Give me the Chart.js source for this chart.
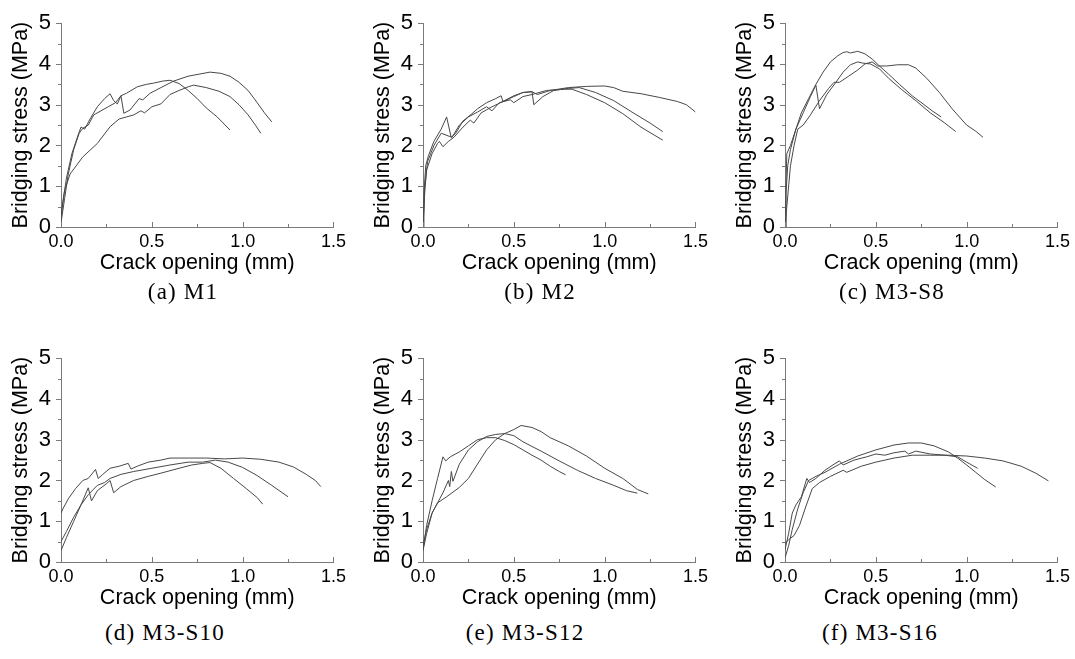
<!DOCTYPE html>
<html>
<head>
<meta charset="utf-8">
<script src="https://cdn.jsdelivr.net/npm/chart.js@4.4.0/dist/chart.umd.min.js"></script>
<style>
  html, body { margin: 0; padding: 0; background: #fff; overflow: hidden; }
  #wrap { position: relative; width: 1075px; height: 659px; }
  canvas { position: absolute; }
  .cap { position: absolute; width: 300px; text-align: center;
         font-family: "Liberation Serif", "Times New Roman", serif;
         font-size: 23px; letter-spacing: 1.2px; color: #000; }
</style>
</head>
<body>
<div id="wrap"></div>
<script>
// tick labels
const X_TICKS = [0, 0.5, 1.0, 1.5];
const Y_TICKS = [0, 1, 2, 3, 4, 5];
const X_TITLE = 'Crack opening (mm)';
const Y_TITLE = 'Bridging stress (MPa)';
const CAPTIONS = ['(a) M1', '(b) M2', '(c) M3-S8', '(d) M3-S10', '(e) M3-S12', '(f) M3-S16'];

// [crack opening mm, bridging stress MPa], three specimens per panel
const M1_1 = [[0,0.2],[0.01,0.6],[0.03,1.2],[0.06,1.8],[0.09,2.2],[0.11,2.45],[0.13,2.4],[0.16,2.65],[0.2,2.95],[0.24,3.15],[0.27,3.27],[0.29,3.1],[0.31,3.02],[0.33,3.22],[0.36,3.28],[0.42,3.44],[0.47,3.5],[0.51,3.53],[0.56,3.58],[0.6,3.6],[0.65,3.52],[0.7,3.35],[0.75,3.15],[0.8,2.92],[0.86,2.7],[0.93,2.38]];
const M1_2 = [[0,0.1],[0.02,0.7],[0.04,1.3],[0.07,1.9],[0.1,2.3],[0.12,2.42],[0.15,2.5],[0.18,2.75],[0.22,2.85],[0.26,2.95],[0.3,3.05],[0.33,3.22],[0.346,2.79],[0.38,2.87],[0.43,3.15],[0.45,3.12],[0.49,3.28],[0.55,3.42],[0.62,3.58],[0.7,3.7],[0.76,3.75],[0.82,3.8],[0.88,3.77],[0.93,3.7],[0.98,3.55],[1.03,3.35],[1.08,3.05],[1.12,2.8],[1.16,2.58]];
const M1_3 = [[0,0.3],[0.02,0.9],[0.05,1.3],[0.12,1.72],[0.2,2.05],[0.27,2.46],[0.32,2.65],[0.36,2.7],[0.4,2.75],[0.44,2.85],[0.46,2.8],[0.5,2.95],[0.55,3.02],[0.6,3.25],[0.65,3.35],[0.7,3.44],[0.73,3.48],[0.8,3.42],[0.87,3.33],[0.93,3.2],[0.98,3.0],[1.03,2.75],[1.07,2.5],[1.1,2.3]];

const M2_1 = [[0,0],[0.005,0.8],[0.015,1.5],[0.03,1.75],[0.06,2.1],[0.1,2.4],[0.13,2.7],[0.155,2.2],[0.18,2.3],[0.22,2.6],[0.27,2.78],[0.3,2.9],[0.35,3.05],[0.4,3.15],[0.43,3.22],[0.44,3.08],[0.5,3.22],[0.55,3.3],[0.6,3.32],[0.63,3.25],[0.7,3.35],[0.8,3.42],[0.9,3.45],[1.0,3.46],[1.05,3.42],[1.1,3.33],[1.2,3.27],[1.3,3.18],[1.4,3.08],[1.45,3.0],[1.5,2.82]];
const M2_2 = [[0,0],[0.01,0.9],[0.02,1.4],[0.05,1.8],[0.08,2.05],[0.09,2.1],[0.11,1.97],[0.14,2.1],[0.17,2.2],[0.22,2.45],[0.26,2.62],[0.28,2.55],[0.32,2.8],[0.38,2.95],[0.45,3.1],[0.5,3.2],[0.55,3.3],[0.6,3.32],[0.61,3.0],[0.66,3.2],[0.72,3.35],[0.8,3.4],[0.86,3.42],[0.95,3.3],[1.05,3.1],[1.15,2.82],[1.25,2.55],[1.32,2.34]];
const M2_3 = [[0,0],[0.01,1.0],[0.025,1.6],[0.06,2.0],[0.1,2.3],[0.16,2.2],[0.2,2.5],[0.25,2.7],[0.3,2.82],[0.35,2.95],[0.38,2.85],[0.42,3.05],[0.48,3.12],[0.5,3.05],[0.55,3.2],[0.6,3.25],[0.68,3.35],[0.78,3.38],[0.82,3.38],[0.9,3.25],[1.0,3.05],[1.1,2.78],[1.2,2.45],[1.32,2.13]];

const M3S8_1 = [[0,0],[0.005,1.0],[0.01,1.8],[0.03,2.0],[0.06,2.4],[0.09,2.8],[0.13,3.15],[0.17,3.5],[0.21,3.8],[0.25,4.05],[0.29,4.2],[0.32,4.28],[0.34,4.3],[0.36,4.27],[0.4,4.31],[0.44,4.25],[0.48,4.12],[0.52,3.95],[0.57,3.75],[0.63,3.5],[0.7,3.22],[0.76,3.02],[0.81,2.85],[0.86,2.7]];
const M3S8_2 = [[0,0],[0.005,0.8],[0.015,1.5],[0.03,1.9],[0.06,2.4],[0.1,2.8],[0.14,3.2],[0.17,3.48],[0.19,2.9],[0.23,3.25],[0.28,3.55],[0.32,3.8],[0.36,3.98],[0.4,4.05],[0.43,4.02],[0.47,4.0],[0.52,3.88],[0.57,3.65],[0.64,3.38],[0.72,3.1],[0.8,2.8],[0.88,2.55],[0.94,2.34]];
const M3S8_3 = [[0,0],[0.01,0.5],[0.03,1.5],[0.05,2.0],[0.07,2.4],[0.1,2.5],[0.14,2.75],[0.19,3.1],[0.24,3.4],[0.27,3.55],[0.3,3.55],[0.35,3.7],[0.4,3.85],[0.44,4.0],[0.48,4.05],[0.51,3.95],[0.56,3.95],[0.62,3.98],[0.68,3.98],[0.72,3.9],[0.78,3.65],[0.85,3.3],[0.92,2.9],[1.0,2.5],[1.05,2.35],[1.09,2.2]];

const M3S10_1 = [[0,1.2],[0.01,1.3],[0.04,1.55],[0.08,1.8],[0.12,2.0],[0.15,2.05],[0.19,2.27],[0.205,2.05],[0.23,2.15],[0.27,2.3],[0.32,2.35],[0.37,2.42],[0.385,2.28],[0.42,2.35],[0.48,2.45],[0.55,2.5],[0.6,2.55],[0.7,2.55],[0.8,2.55],[0.9,2.53],[1.0,2.55],[1.1,2.52],[1.2,2.45],[1.28,2.33],[1.35,2.15],[1.4,2.0],[1.43,1.85]];
const M3S10_2 = [[0,0.5],[0.03,0.75],[0.07,1.1],[0.11,1.4],[0.15,1.65],[0.2,1.88],[0.24,1.95],[0.27,2.05],[0.33,2.15],[0.4,2.22],[0.5,2.3],[0.6,2.38],[0.7,2.45],[0.78,2.45],[0.85,2.5],[0.92,2.45],[1.0,2.32],[1.08,2.12],[1.16,1.88],[1.25,1.6]];
const M3S10_3 = [[0,0.28],[0.03,0.6],[0.07,1.0],[0.11,1.4],[0.15,1.82],[0.168,1.5],[0.2,1.75],[0.25,1.92],[0.27,2.0],[0.29,1.7],[0.33,1.85],[0.4,2.0],[0.48,2.1],[0.55,2.18],[0.65,2.3],[0.72,2.38],[0.78,2.42],[0.82,2.44],[0.88,2.3],[0.95,2.05],[1.02,1.8],[1.08,1.58],[1.11,1.42]];

const M3S12_1 = [[0,0.3],[0.02,0.9],[0.05,1.5],[0.08,2.05],[0.11,2.58],[0.125,2.48],[0.15,2.58],[0.2,2.7],[0.25,2.85],[0.3,3.0],[0.35,3.05],[0.4,3.05],[0.45,2.98],[0.5,2.88],[0.55,2.75],[0.6,2.62],[0.65,2.5],[0.7,2.35],[0.75,2.22],[0.785,2.14]];
const M3S12_2 = [[0,0.4],[0.02,0.8],[0.05,1.2],[0.08,1.45],[0.11,1.7],[0.14,2.0],[0.147,1.85],[0.156,2.22],[0.165,1.98],[0.2,2.4],[0.25,2.75],[0.3,2.95],[0.35,3.08],[0.4,3.13],[0.45,3.15],[0.5,3.1],[0.55,2.95],[0.65,2.72],[0.75,2.48],[0.85,2.25],[0.95,2.05],[1.05,1.88],[1.12,1.75],[1.18,1.69]];
const M3S12_3 = [[0,0.28],[0.02,0.7],[0.05,1.2],[0.08,1.45],[0.13,1.6],[0.2,1.83],[0.25,2.05],[0.3,2.4],[0.35,2.75],[0.4,3.0],[0.45,3.15],[0.5,3.25],[0.54,3.35],[0.6,3.3],[0.65,3.2],[0.7,3.05],[0.8,2.85],[0.9,2.6],[1.0,2.3],[1.1,2.05],[1.18,1.78],[1.24,1.67]];

const M3S16_1 = [[0,0.1],[0.02,0.4],[0.04,0.8],[0.07,1.3],[0.1,1.7],[0.13,2.0],[0.17,2.1],[0.22,2.2],[0.3,2.4],[0.4,2.6],[0.5,2.75],[0.6,2.87],[0.68,2.92],[0.75,2.92],[0.82,2.85],[0.9,2.7],[0.95,2.55],[1.0,2.38],[1.05,2.2],[1.1,2.02],[1.16,1.84]];
const M3S16_2 = [[0,0.45],[0.02,0.55],[0.05,0.65],[0.08,0.9],[0.11,1.3],[0.15,1.8],[0.19,1.95],[0.25,2.1],[0.32,2.25],[0.34,2.2],[0.42,2.35],[0.5,2.45],[0.6,2.55],[0.7,2.62],[0.8,2.62],[0.9,2.62],[1.0,2.6],[1.1,2.55],[1.2,2.48],[1.3,2.35],[1.38,2.18],[1.45,1.99]];
const M3S16_3 = [[0,0.3],[0.02,0.7],[0.04,1.2],[0.06,1.4],[0.09,1.6],[0.12,2.05],[0.135,1.95],[0.17,2.05],[0.22,2.25],[0.27,2.4],[0.3,2.48],[0.32,2.38],[0.38,2.5],[0.45,2.58],[0.5,2.65],[0.55,2.62],[0.6,2.68],[0.66,2.72],[0.68,2.65],[0.72,2.72],[0.8,2.65],[0.88,2.62],[0.95,2.58],[1.0,2.45],[1.06,2.3]];

const PANELS = [
  [M1_1, M1_2, M1_3],
  [M2_1, M2_2, M2_3],
  [M3S8_1, M3S8_2, M3S8_3],
  [M3S10_1, M3S10_2, M3S10_3],
  [M3S12_1, M3S12_2, M3S12_3],
  [M3S16_1, M3S16_2, M3S16_3],
];

const AXIS_COLOR = '#7a7a7a';
const LINE_COLOR = '#484848';
const COL_LEFT = [0, 362, 724];
const ROW_TOP = [0, 335];
const CAP_CENTER = [[183, 540, 892], [165, 525, 880]];
const CAP_TOP = [279, 620];

Chart.defaults.font.family = '"Liberation Sans", Arial, sans-serif';
Chart.defaults.color = '#000';

// minor + major ticks: x ticks point up into the plot, y ticks point out to the left
const axisTicks = {
  id: 'axisTicks',
  afterDraw(chart) {
    const {ctx, chartArea: a, scales: {x, y}} = chart;
    ctx.save();
    ctx.strokeStyle = AXIS_COLOR;
    ctx.lineWidth = 1;
    ctx.beginPath();
    for (let i = 0; i <= 6; i++) {
      const px = Math.round(x.getPixelForValue(i * 0.25)) + 0.5;
      const len = i % 2 === 0 ? 5 : 3;
      ctx.moveTo(px, a.bottom);
      ctx.lineTo(px, a.bottom - len);
    }
    for (let i = 0; i <= 10; i++) {
      const py = Math.round(y.getPixelForValue(i * 0.5)) + 0.5;
      const len = i % 2 === 0 ? 5 : 3;
      ctx.moveTo(a.left, py);
      ctx.lineTo(a.left - len, py);
    }
    ctx.stroke();
    ctx.restore();
  }
};

const wrap = document.getElementById('wrap');

PANELS.forEach((series, idx) => {
  const row = Math.floor(idx / 3);
  const col = idx % 3;
  const canvas = document.createElement('canvas');
  canvas.width = 350;
  canvas.height = 280;
  canvas.style.left = COL_LEFT[col] + 'px';
  canvas.style.top = ROW_TOP[row] + 'px';
  wrap.appendChild(canvas);

  const cap = document.createElement('div');
  cap.className = 'cap';
  cap.textContent = CAPTIONS[idx];
  cap.style.left = (CAP_CENTER[row][col] - 150) + 'px';
  cap.style.top = CAP_TOP[row] + 'px';
  wrap.appendChild(cap);

  new Chart(canvas, {
    type: 'scatter',
    data: {
      datasets: series.map(pts => ({
        data: pts.map(p => ({x: p[0], y: p[1]})),
        showLine: true,
        borderColor: LINE_COLOR,
        borderWidth: 1,
        pointRadius: 0,
        tension: 0,
      }))
    },
    options: {
      responsive: false,
      animation: false,
      events: [],
      layout: {padding: {top: 23, right: 16, left: 0, bottom: 0}},
      plugins: {legend: {display: false}, tooltip: {enabled: false}},
      scales: {
        x: {
          type: 'linear',
          min: 0,
          max: 1.5,
          afterFit: s => { s.height = 53; },
          afterBuildTicks: s => { s.ticks = X_TICKS.map(v => ({value: v})); },
          grid: {display: false, drawTicks: false},
          border: {display: true, color: AXIS_COLOR, width: 1},
          ticks: {
            font: {size: 18},
            padding: 4,
            maxRotation: 0,
            callback: v => Number(v).toFixed(1),
          },
          title: {display: true, text: X_TITLE, font: {size: 21.5}, padding: {top: 0, bottom: 4}},
        },
        y: {
          type: 'linear',
          min: 0,
          max: 5,
          afterFit: s => { s.width = 61; },
          afterBuildTicks: s => { s.ticks = Y_TICKS.map(v => ({value: v})); },
          grid: {display: false, drawTicks: false},
          border: {display: true, color: AXIS_COLOR, width: 1},
          ticks: {font: {size: 22}, padding: 10},
          title: {display: true, text: Y_TITLE, font: {size: 21.5}, padding: {top: 8, bottom: 0}},
        }
      }
    },
    plugins: [axisTicks]
  });
});
</script>
</body>
</html>
